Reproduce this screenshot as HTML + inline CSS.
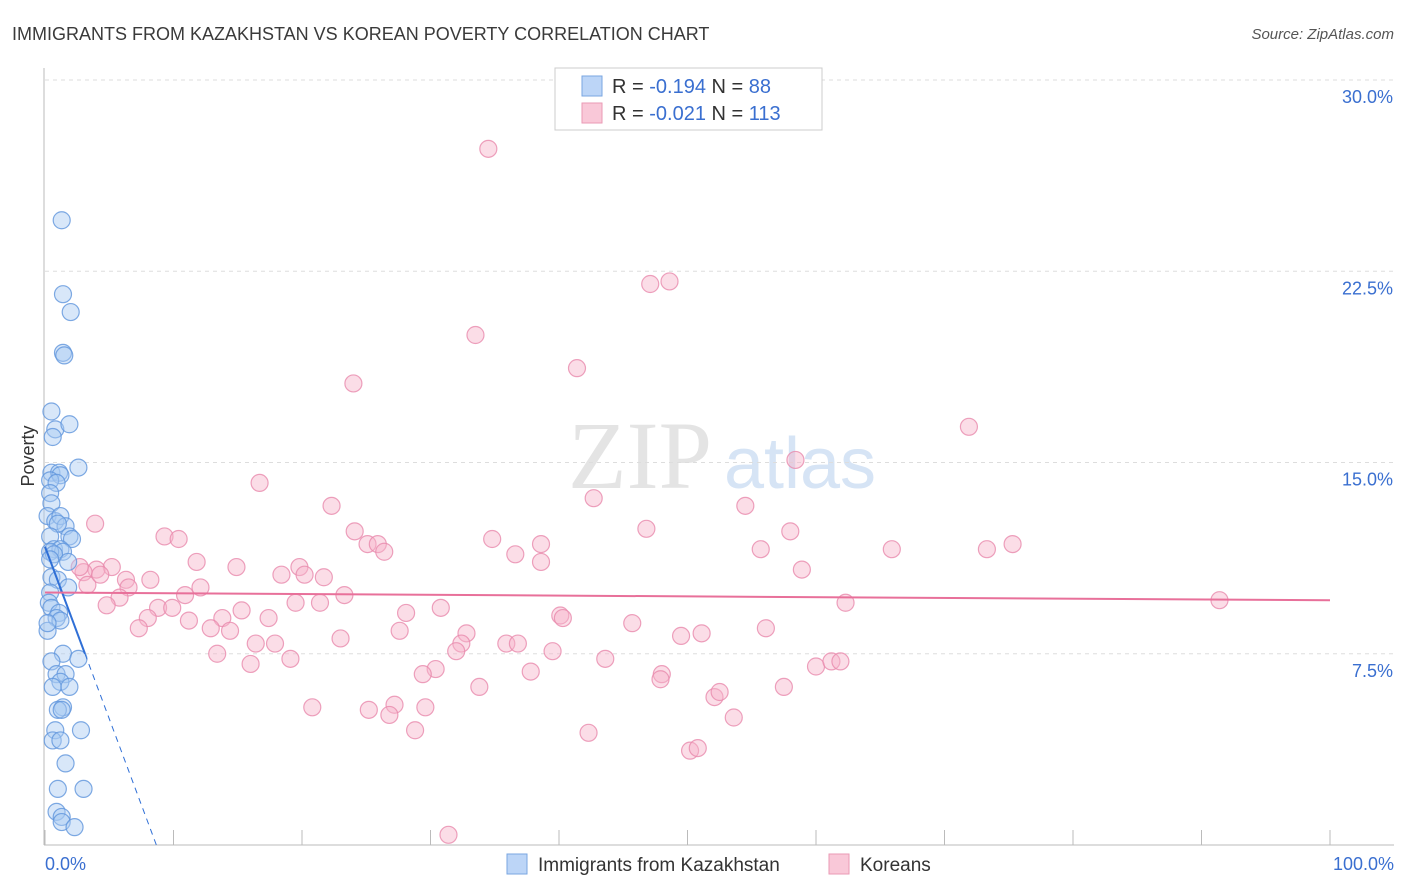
<!DOCTYPE html>
<html><head><meta charset="utf-8"><style>
body{margin:0;background:#fff;font-family:"Liberation Sans",sans-serif;}
#wrap{position:relative;width:1406px;height:892px;overflow:hidden}
</style></head><body>
<div id="wrap">
<svg id="svg" width="1406" height="892">
<text x="12" y="40" font-size="18" fill="#3a3a3a">IMMIGRANTS FROM KAZAKHSTAN VS KOREAN POVERTY CORRELATION CHART</text>
<text x="1394" y="39" font-size="15" fill="#555" font-style="italic" text-anchor="end">Source: ZipAtlas.com</text>
<text x="640" y="488" font-size="96" fill="#e4e4e4" font-family="Liberation Serif" text-anchor="middle">ZIP</text>
<text x="800" y="488" font-size="72" fill="#d6e4f5" text-anchor="middle">atlas</text>
<g id="grid"></g><g id="axes"></g><g id="pts"></g><g id="trend"></g>
<text x="34" y="456" font-size="18" fill="#333" transform="rotate(-90 34 456)" text-anchor="middle">Poverty</text>
<g>
<rect x="555" y="68" width="267" height="62" fill="#fff" stroke="#ccc"/>
<rect x="582" y="76" width="20" height="20" fill="#bcd5f7" stroke="#7aa6e0"/>
<rect x="582" y="103" width="20" height="20" fill="#f9c8d8" stroke="#ea9ab5"/>
<text x="612" y="93" font-size="20" fill="#333">R = <tspan fill="#3a6fd0">-0.194</tspan>   N = <tspan fill="#3a6fd0"> 88</tspan></text>
<text x="612" y="120" font-size="20" fill="#333">R = <tspan fill="#3a6fd0">-0.021</tspan>   N = <tspan fill="#3a6fd0">113</tspan></text>
</g>
<g>
<rect x="507" y="854" width="20" height="20" fill="#bcd5f7" stroke="#7aa6e0"/>
<text x="538" y="871" font-size="19" fill="#333">Immigrants from Kazakhstan</text>
<rect x="829" y="854" width="20" height="20" fill="#f9c8d8" stroke="#ea9ab5"/>
<text x="860" y="871" font-size="19" fill="#333">Koreans</text>
</g>
</svg>
</div>
<script>
const yTicks=[7.5,15,22.5,30];
const yTickLabels=["7.5%","15.0%","22.5%","30.0%"];
const xTickLabels=["0.0%","100.0%"];
const blueX=[1.3,1.4,2.0,1.4,1.5,0.5,0.8,1.9,0.6,2.6,0.5,1.1,1.2,0.4,0.9,0.4,0.5,0.2,0.8,1.2,1.6,1.0,1.9,2.1,0.4,0.7,1.2,1.4,0.4,0.7,1.8,0.5,1.0,1.8,0.4,0.3,0.5,1.1,0.9,1.2,0.2,1.4,0.5,2.6,0.9,1.6,1.2,0.6,1.9,1.4,1.0,1.3,0.8,2.8,0.6,1.2,1.6,1.0,3.0,0.9,1.3,1.3,2.3,0.2,0.4];
const blueY=[24.5,21.6,20.9,19.3,19.2,17.0,16.3,16.5,16.0,14.8,14.6,14.6,14.5,14.3,14.2,13.8,13.4,12.9,12.7,12.9,12.5,12.6,12.1,12.0,12.1,11.6,11.6,11.5,11.5,11.4,11.1,10.5,10.4,10.1,9.9,9.5,9.3,9.1,8.9,8.8,8.4,7.5,7.2,7.3,6.7,6.7,6.4,6.2,6.2,5.4,5.3,5.3,4.5,4.5,4.1,4.1,3.2,2.2,2.2,1.3,1.1,0.9,0.7,8.7,11.2];
const pinkX=[34.5,48.6,47.1,33.5,41.4,24.0,71.9,58.4,16.7,22.3,42.7,3.9,24.1,54.5,46.8,58.0,9.3,10.4,25.1,25.9,26.4,34.8,36.6,38.6,38.6,55.7,65.9,73.3,75.3,5.2,4.0,3.0,2.7,3.3,6.3,8.2,6.5,4.3,11.8,14.9,18.4,19.8,20.2,21.7,12.1,10.9,5.8,4.8,8.8,9.9,8.0,11.2,13.8,15.3,17.4,19.5,21.4,23.3,30.8,28.1,40.1,40.3,58.9,62.3,91.4,7.3,12.9,14.4,27.6,32.8,45.7,49.5,51.1,56.1,13.4,16.4,17.9,23.0,32.4,32.0,35.9,36.8,39.5,43.6,16.0,19.1,30.4,29.4,37.8,48.0,47.9,33.8,57.5,60.0,61.2,61.9,52.1,52.5,27.2,20.8,25.2,26.8,29.6,53.6,28.8,42.3,50.2,50.8,31.4];
const pinkY=[27.3,22.1,22.0,20.0,18.7,18.1,16.4,15.1,14.2,13.3,13.6,12.6,12.3,13.3,12.4,12.3,12.1,12.0,11.8,11.8,11.5,12.0,11.4,11.8,11.1,11.6,11.6,11.6,11.8,10.9,10.8,10.7,10.9,10.2,10.4,10.4,10.1,10.6,11.1,10.9,10.6,10.9,10.6,10.5,10.1,9.8,9.7,9.4,9.3,9.3,8.9,8.8,8.9,9.2,8.9,9.5,9.5,9.8,9.3,9.1,9.0,8.9,10.8,9.5,9.6,8.5,8.5,8.4,8.4,8.3,8.7,8.2,8.3,8.5,7.5,7.9,7.9,8.1,7.9,7.6,7.9,7.9,7.6,7.3,7.1,7.3,6.9,6.7,6.8,6.7,6.5,6.2,6.2,7.0,7.2,7.2,5.8,6.0,5.5,5.4,5.3,5.1,5.4,5.0,4.5,4.4,3.7,3.8,0.4];
const blueTrend=[11.7,-1.35]; // intercept, slope per %
const pinkTrend=[9.9,9.6]; // y at 0% and 100%
const NS="http://www.w3.org/2000/svg";
const xs=v=>45+v*12.85, ys=v=>845-v*25.5;
function mk(tag,attrs,parent){const e=document.createElementNS(NS,tag);for(const k in attrs)e.setAttribute(k,attrs[k]);document.getElementById(parent).appendChild(e);return e;}
yTicks.forEach((t,i)=>{
 const l=mk('line',{x1:45,x2:1394,y1:ys(t),y2:ys(t),stroke:'#ddd','stroke-dasharray':'4,4'},'grid');
 
 
 const tx=mk('text',{x:1393,y:ys(t)+23,'font-size':18,fill:'#3a6fd0','text-anchor':'end'},'axes');
 tx.textContent=yTickLabels[i];
 
 
});
const yl=mk('line',{x1:44,x2:44,y1:68,y2:845,stroke:'#bbb'},'axes');


const xl=mk('line',{x1:44,x2:1394,y1:845,y2:845,stroke:'#bbb'},'axes');


for(let i=0;i<=10;i++){const t=mk('line',{x1:xs(i*10),x2:xs(i*10),y1:830,y2:845,stroke:'#bbb'},'axes');
 
 }
[[0,'start',45],[100,'end',1394]].forEach((a,i)=>{const t=mk('text',{x:a[2],y:870,'font-size':18,fill:'#3a6fd0','text-anchor':a[1]},'axes');t.textContent=xTickLabels[i];
 
 });
function pts(X,Y,fill,stroke,name){for(let i=0;i<Math.min(X.length,Y.length);i++){
 const c=mk('circle',{cx:xs(X[i]),cy:ys(Y[i]),r:8.5,fill:fill,'fill-opacity':0.45,stroke:stroke,'stroke-opacity':0.8,'stroke-width':1.2},'pts');
 
 }}
pts(pinkX,pinkY,'#f7b3c9','#e98aac','korean-point');
pts(blueX,blueY,'#a9c9f2','#5f95dc','kazakhstan-point');
const x1=(7.5-blueTrend[0])/blueTrend[1], x0=-blueTrend[0]/blueTrend[1];
const b1=mk('line',{x1:xs(0),y1:ys(blueTrend[0]),x2:xs(x1),y2:ys(7.5),stroke:'#2f6fd6','stroke-width':2},'trend');


const b2=mk('line',{x1:xs(x1),y1:ys(7.5),x2:xs(x0),y2:ys(0),stroke:'#2f6fd6','stroke-width':1,'stroke-dasharray':'6,5'},'trend');


const p=mk('line',{x1:xs(0),y1:ys(pinkTrend[0]),x2:xs(100),y2:ys(pinkTrend[1]),stroke:'#e8709a','stroke-width':2},'trend');


</script>
</body></html>
